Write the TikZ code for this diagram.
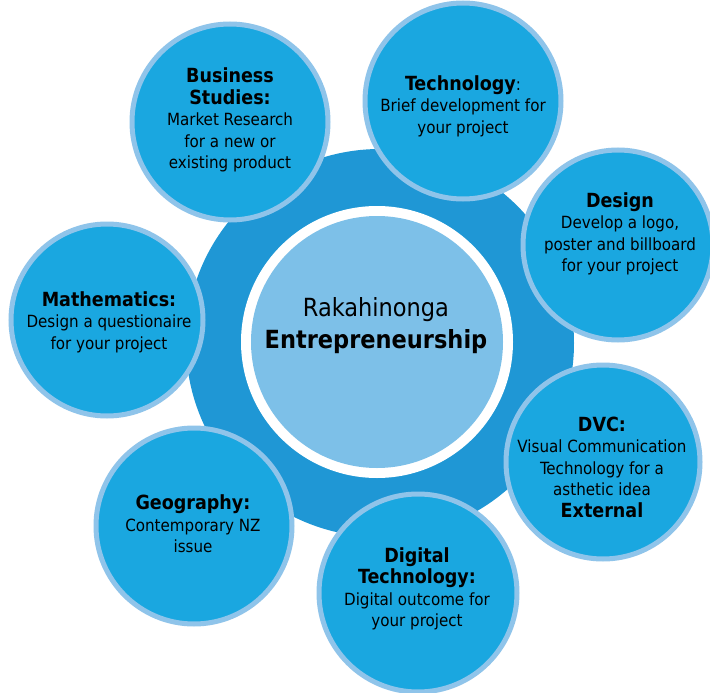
\documentclass[tikz,border=0pt]{standalone}
\usepackage{fontspec}
\setmainfont{DejaVu Sans Condensed}
\definecolor{ringdark}{HTML}{1F97D5}
\definecolor{bubble}{HTML}{1AA7E0}
\definecolor{bubbleedge}{HTML}{8FC4EA}
\definecolor{corelight}{HTML}{7DC0E8}
\newcommand\ttlline[1]{{\fontsize{19.5}{22}\selectfont\bfseries #1}}
\begin{document}
\begin{tikzpicture}[x=1pt,y=-1pt,
  bubblecircle/.style={circle,fill=bubble,draw=bubbleedge,line width=5pt,minimum size=#1,inner sep=0pt},
  bubbletext/.style={align=center,inner sep=0pt,text=black,font=\fontsize{16.8}{21.5}\selectfont}]
\useasboundingbox (0,0) rectangle (710,693);
\fill[white] (0,0) rectangle (710,693);
% central rings
\node[circle,fill=ringdark,minimum size=388pt,inner sep=0pt] (ring) at (380,343) {};
\node[circle,fill=white,minimum size=272pt,inner sep=0pt] (whitering) at (377,342) {};
\node[circle,fill=corelight,minimum size=252pt,inner sep=0pt] (core) at (377,342) {};
\node[align=center,inner sep=0pt,font=\fontsize{25}{32}\selectfont] (coretext) at (376,326)
  {Rakahinonga\\{\bfseries Entrepreneurship}};
% satellite circles
\node[bubblecircle=196pt] (bs) at (230,122) {};
\node[bubblecircle=196pt] (tech) at (463,101) {};
\node[bubblecircle=190pt] (design) at (618,245) {};
\node[bubblecircle=192pt] (math) at (107,320) {};
\node[bubblecircle=194pt] (dvc) at (603,462) {};
\node[bubblecircle=196pt] (geo) at (194,526) {};
\node[bubblecircle=198pt] (dig) at (418,593) {};
% texts
\node[bubbletext] (bst) at (230,120) {\ttlline{Business}\\\ttlline{Studies:}\\Market Research\\for a new or\\existing product};
\node[bubbletext] (techt) at (463,106) {\ttlline{Technology}:\\Brief development for\\your project};
\node[bubbletext] (designt) at (620,234) {\ttlline{Design}\\Develop a logo,\\poster and billboard\\for your project};
\node[bubbletext] (matht) at (109,322) {\ttlline{Mathematics:}\\Design a questionaire\\for your project};
\node[bubbletext] (dvct) at (602,467) {\ttlline{DVC:}\\Visual Communication\\Technology for a\\asthetic idea\\\ttlline{External}};
\node[bubbletext] (geot) at (193,524) {\ttlline{Geography:}\\Contemporary NZ\\issue};
\node[bubbletext] (digt) at (417,589) {\ttlline{Digital}\\\ttlline{Technology:}\\Digital outcome for\\your project};
\end{tikzpicture}
\end{document}
